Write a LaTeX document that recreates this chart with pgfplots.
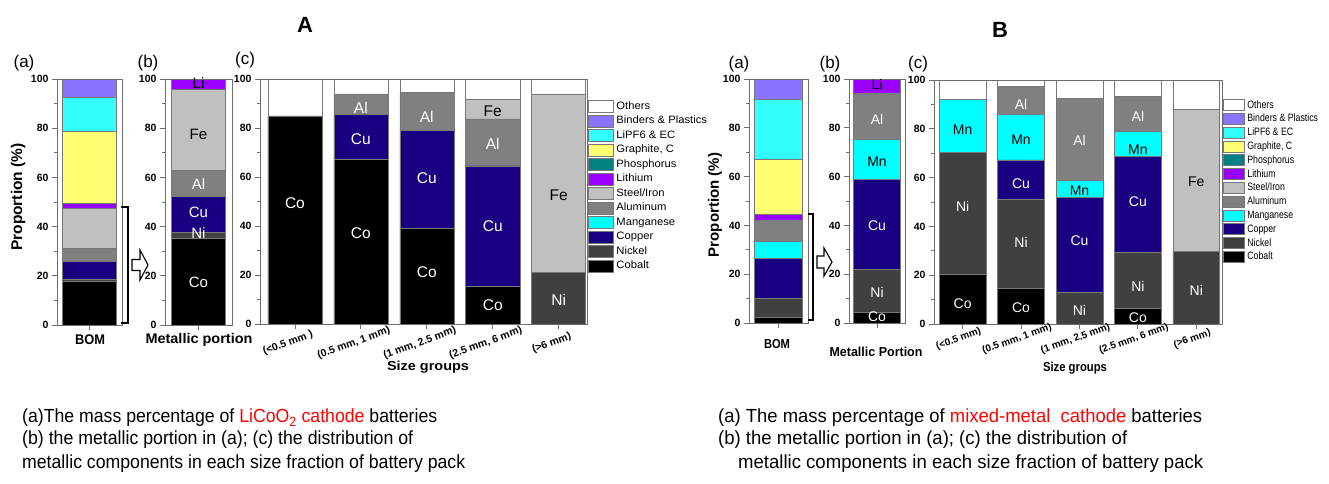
\documentclass[border=0pt]{standalone}
\usepackage{pgfplots}
\pgfplotsset{compat=1.18}
\usepackage{fontspec}
\setmainfont{Liberation Sans}
\usepackage{graphicx}
\definecolor{cOth}{RGB}{255,255,255}
\definecolor{cBind}{RGB}{140,115,255}
\definecolor{cLiPF}{RGB}{51,255,255}
\definecolor{cGr}{RGB}{255,255,115}
\definecolor{cPh}{RGB}{0,128,128}
\definecolor{cLi}{RGB}{153,0,255}
\definecolor{cFe}{RGB}{192,192,192}
\definecolor{cAl}{RGB}{128,128,128}
\definecolor{cMn}{RGB}{0,255,255}
\definecolor{cCu}{RGB}{26,0,128}
\definecolor{cNi}{RGB}{64,64,64}
\definecolor{cCo}{RGB}{0,0,0}
\definecolor{axc}{RGB}{110,110,110}
\definecolor{barc}{RGB}{120,120,120}
\newcommand\fitw[2]{\resizebox{#1}{\height}{#2}}
\newcommand\fs[1]{\fontsize{#1}{#1}\selectfont}
\newcommand\LA[1]{\scalebox{1.05}[1]{#1}}
\newcommand\LB[1]{\scalebox{0.82}[1]{#1}}
\pgfplotsset{
 base/.style={
   scale only axis, ymin=0, ymax=100, anchor=north west,
   axis on top,
   ytick={0,20,40,60,80,100}, minor ytick={10,30,50,70,90},
   tick align=outside, xtick pos=left, ytick pos=left,
   major tick length=5pt, minor tick length=3pt,
   axis line style={draw=axc, line width=0.8pt},
   every tick/.append style={draw=axc, line width=0.8pt},
   yticklabel style={font=\fs{10.5}\bfseries},
   /pgf/number format/assume math mode=true,
   ybar stacked,
   every axis plot/.append style={draw=barc, line width=0.5pt},
   clip=false,
 },
 single/.style={xmin=-0.5, xmax=0.5, xtick={0}, xticklabels={}},
}
\tikzset{labA/.style={font=\fs{15.5}, inner sep=0pt, text=white},
         labB/.style={font=\fs{14}, inner sep=0pt, text=white}}
\begin{document}
\begin{tikzpicture}
\path[use as bounding box] (0pt,0pt) rectangle (1329pt,483pt);
% ================= A =================
\node[font=\fs{22}\bfseries] at (305pt,458pt) {A};
\node[font=\fs{17}] at (24pt,420pt) {(a)};
\node[font=\fs{17}] at (148pt,420pt) {(b)};
\node[font=\fs{17}] at (245pt,423pt) {(c)};
\node[font=\fs{15.5}\bfseries, rotate=90] at (18pt,286pt) {Proportion (\%)};
% A (a)
\begin{axis}[base, single, at={(57pt,404pt)}, width=65pt, height=246pt, bar width=0.83]
\addplot[fill=cCo] coordinates {(0,17.6)};
\addplot[fill=cNi] coordinates {(0,1.0)};
\addplot[fill=cCu] coordinates {(0,7.4)};
\addplot[fill=cAl] coordinates {(0,5.2)};
\addplot[fill=cFe] coordinates {(0,16.3)};
\addplot[fill=cLi] coordinates {(0,2.0)};
\addplot[fill=cGr] coordinates {(0,29.2)};
\addplot[fill=cLiPF] coordinates {(0,14.0)};
\addplot[fill=cBind] coordinates {(0,7.3)};
\end{axis}
% A (b)
\begin{axis}[base, single, at={(165pt,404pt)}, width=67pt, height=246pt, bar width=0.8,
 after end axis/.code={
  \node[labA,font=\fs{15},text=black] at (axis cs:0,98.2) {Li};
  \node[labA,font=\fs{15},text=black] at (axis cs:0,77.6) {Fe};
  \node[labA,font=\fs{15}] at (axis cs:0,57.3) {Al};
  \node[labA,font=\fs{15}] at (axis cs:0,46) {Cu};
  \node[labA,font=\fs{15}] at (axis cs:0,37.5) {Ni};
  \node[labA,font=\fs{15}] at (axis cs:0,17.5) {Co};
 }]
\addplot[fill=cCo] coordinates {(0,35.3)};
\addplot[fill=cNi] coordinates {(0,2.3)};
\addplot[fill=cCu] coordinates {(0,14.6)};
\addplot[fill=cAl] coordinates {(0,10.6)};
\addplot[fill=cFe] coordinates {(0,33.1)};
\addplot[fill=cLi] coordinates {(0,4.1)};
\end{axis}
% A (c)
\begin{axis}[base, at={(260pt,404pt)}, width=327pt, height=245pt,
  xmin=-0.53, xmax=4.43, bar width=0.82, xtick={0,1,2,3,4},
  xticklabels={{(<0.5 mm )},{(0.5 mm, 1 mm)},{(1 mm, 2.5 mm)},{(2.5 mm, 6 mm)},{(>6 mm)}},
  xticklabel style={font=\fs{10.5}\bfseries, anchor=center, xshift=-7pt, yshift=-14pt, rotate=20},
  legend image code/.code={\draw[#1] (0pt,-6pt) rectangle (25pt,6pt);},
  reverse legend, legend cell align=left,
  legend style={draw=none, fill=none, at={(1.003,0.918)}, anchor=north west,
    inner sep=0pt, outer sep=0pt, row sep=0pt, column sep=3pt, font=\fs{10.7},
    nodes={inner sep=0pt, minimum height=14.5pt}},
  after end axis/.code={
   \node[labA] at (axis cs:0,49.5) {Co};
   \node[labA] at (axis cs:1,88.1) {Al};
   \node[labA] at (axis cs:1,75.4) {Cu};
   \node[labA] at (axis cs:1,37.2) {Co};
   \node[labA] at (axis cs:2,84.4) {Al};
   \node[labA] at (axis cs:2,59.4) {Cu};
   \node[labA] at (axis cs:2,21.2) {Co};
   \node[labA,text=black] at (axis cs:3,86.7) {Fe};
   \node[labA] at (axis cs:3,73.4) {Al};
   \node[labA] at (axis cs:3,40) {Cu};
   \node[labA] at (axis cs:3,7.8) {Co};
   \node[labA,text=black] at (axis cs:4,52.6) {Fe};
   \node[labA] at (axis cs:4,9.8) {Ni};
  },
]
\addplot[fill=cCo] coordinates {(0,85) (1,67.3) (2,38.9) (3,15.4) (4,0)};
\addplot[fill=cNi] coordinates {(0,0) (1,0) (2,0) (3,0) (4,21.0)};
\addplot[fill=cCu] coordinates {(0,0) (1,18.4) (2,40.1) (3,49.1) (4,0)};
\addplot[fill=cMn] coordinates {(0,0) (1,0) (2,0) (3,0) (4,0)};
\addplot[fill=cAl] coordinates {(0,0) (1,8.2) (2,15.5) (3,19.2) (4,0)};
\addplot[fill=cFe] coordinates {(0,0) (1,0) (2,0) (3,8.2) (4,72.9)};
\addplot[fill=cLi] coordinates {(0,0) (1,0) (2,0) (3,0) (4,0)};
\addplot[fill=cPh] coordinates {(0,0) (1,0) (2,0) (3,0) (4,0)};
\addplot[fill=cGr] coordinates {(0,0) (1,0) (2,0) (3,0) (4,0)};
\addplot[fill=cLiPF] coordinates {(0,0) (1,0) (2,0) (3,0) (4,0)};
\addplot[fill=cBind] coordinates {(0,0) (1,0) (2,0) (3,0) (4,0)};
\addplot[fill=cOth] coordinates {(0,15) (1,6.1) (2,5.5) (3,8.1) (4,6.1)};
\legend{\LA{Cobalt},\LA{Nickel},\LA{Copper},\LA{Manganese},\LA{Aluminum},\LA{Steel/Iron},\LA{Lithium},\LA{Phosphorus},\LA{Graphite, C},\LA{LiPF6 \& EC},\LA{Binders \& Plastics},\LA{Others}}
\end{axis}
\node[font=\fs{14}\bfseries] at (90pt,143pt) {\fitw{30pt}{BOM}};
\node[font=\fs{14}\bfseries] at (199pt,143pt) {\fitw{107pt}{Metallic portion}};
\node[font=\fs{13}\bfseries] at (428pt,116pt) {\fitw{82pt}{Size groups}};
% bracket + arrow A
\draw[line width=1.3pt] (121pt,276pt) -- (128pt,276pt) -- (128pt,160pt) -- (121pt,160pt);
\draw[line width=1.1pt, fill=white] (132pt,212.5pt) -- (140pt,212.5pt) -- (140pt,203pt) -- (148pt,218pt) -- (140pt,233pt) -- (140pt,223.5pt) -- (132pt,223.5pt) -- cycle;
% captions A
\node[anchor=west, inner sep=0pt, font=\fs{19}] at (22pt,65pt) {\fitw{415pt}{(a)The mass percentage of \textcolor{red}{LiCoO\textsubscript{2} cathode} batteries}};
\node[anchor=west, inner sep=0pt, font=\fs{19}] at (22pt,43pt) {\fitw{391pt}{(b) the metallic portion in (a); (c) the distribution of}};
\node[anchor=west, inner sep=0pt, font=\fs{19}] at (22pt,19pt) {\fitw{443pt}{metallic components in each size fraction of battery pack}};
% ================= B =================
\node[font=\fs{22}\bfseries] at (1000pt,453pt) {B};
\node[font=\fs{17}] at (739pt,419pt) {(a)};
\node[font=\fs{17}] at (830pt,419pt) {(b)};
\node[font=\fs{17}] at (918pt,419pt) {(c)};
\node[font=\fs{15}\bfseries, rotate=90] at (715pt,278pt) {Proportion (\%)};
% B (a)
\begin{axis}[base, single, at={(749pt,404pt)}, width=59pt, height=244pt, bar width=0.81]
\addplot[fill=cCo] coordinates {(0,2.5)};
\addplot[fill=cNi] coordinates {(0,7.7)};
\addplot[fill=cCu] coordinates {(0,16.2)};
\addplot[fill=cMn] coordinates {(0,7.2)};
\addplot[fill=cAl] coordinates {(0,8.5)};
\addplot[fill=cLi] coordinates {(0,2.3)};
\addplot[fill=cGr] coordinates {(0,22.8)};
\addplot[fill=cLiPF] coordinates {(0,24.6)};
\addplot[fill=cBind] coordinates {(0,8.2)};
\end{axis}
% B (b)
\begin{axis}[base, single, at={(849pt,404pt)}, width=56pt, height=244pt, bar width=0.84,
 after end axis/.code={
  \node[labB,text=black] at (axis cs:0,97.7) {Li};
  \node[labB] at (axis cs:0,83.6) {Al};
  \node[labB,text=black] at (axis cs:0,66.3) {Mn};
  \node[labB] at (axis cs:0,39.9) {Cu};
  \node[labB] at (axis cs:0,12.6) {Ni};
  \node[labB] at (axis cs:0,2.5) {Co};
 }]
\addplot[fill=cCo] coordinates {(0,4.4)};
\addplot[fill=cNi] coordinates {(0,17.7)};
\addplot[fill=cCu] coordinates {(0,36.9)};
\addplot[fill=cMn] coordinates {(0,16.4)};
\addplot[fill=cAl] coordinates {(0,18.9)};
\addplot[fill=cLi] coordinates {(0,5.7)};
\end{axis}
% B (c)
\begin{axis}[base, at={(934pt,403pt)}, width=288pt, height=244pt,
  xmin=-0.49, xmax=4.44, bar width=0.8, xtick={0,1,2,3,4},
  xticklabels={{(<0.5 mm)},{(0.5 mm, 1 mm)},{(1 mm, 2.5 mm)},{(2.5 mm, 6 mm)},{(>6 mm)}},
  xticklabel style={font=\fs{10}\bfseries, anchor=center, xshift=-4pt, yshift=-10pt, rotate=20},
  legend image code/.code={\draw[#1] (0pt,-5.5pt) rectangle (21pt,5.5pt);},
  reverse legend, legend cell align=left,
  legend style={draw=none, fill=none, at={(1.003,0.926)}, anchor=north west,
    inner sep=0pt, outer sep=0pt, row sep=0pt, column sep=3pt, font=\fs{10.7},
    nodes={inner sep=0pt, minimum height=13.8pt}},
  after end axis/.code={
   \node[labB,text=black] at (axis cs:0,79.8) {Mn};
   \node[labB] at (axis cs:0,48.2) {Ni};
   \node[labB] at (axis cs:0,8.3) {Co};
   \node[labB] at (axis cs:1,89.8) {Al};
   \node[labB,text=black] at (axis cs:1,75.7) {Mn};
   \node[labB] at (axis cs:1,57.7) {Cu};
   \node[labB] at (axis cs:1,33.4) {Ni};
   \node[labB] at (axis cs:1,6.5) {Co};
   \node[labB] at (axis cs:2,75.4) {Al};
   \node[labB,text=black] at (axis cs:2,54.6) {Mn};
   \node[labB] at (axis cs:2,34.1) {Cu};
   \node[labB] at (axis cs:2,5.6) {Ni};
   \node[labB] at (axis cs:3,85) {Al};
   \node[labB,text=black] at (axis cs:3,71.6) {Mn};
   \node[labB] at (axis cs:3,50.2) {Cu};
   \node[labB] at (axis cs:3,15.4) {Ni};
   \node[labB] at (axis cs:3,2.5) {Co};
   \node[labB,text=black] at (axis cs:4,58.4) {Fe};
   \node[labB] at (axis cs:4,13.8) {Ni};
  },
]
\addplot[fill=cCo] coordinates {(0,20.2) (1,14.7) (2,0) (3,6.5) (4,0)};
\addplot[fill=cNi] coordinates {(0,50.1) (1,36.5) (2,13.1) (3,22.8) (4,29.9)};
\addplot[fill=cCu] coordinates {(0,0) (1,16.1) (2,38.7) (3,39.3) (4,0)};
\addplot[fill=cMn] coordinates {(0,21.9) (1,18.7) (2,7.0) (3,10.3) (4,0)};
\addplot[fill=cAl] coordinates {(0,0) (1,11.3) (2,33.7) (3,14.3) (4,0)};
\addplot[fill=cFe] coordinates {(0,0) (1,0) (2,0) (3,0) (4,58.2)};
\addplot[fill=cLi] coordinates {(0,0) (1,0) (2,0) (3,0) (4,0)};
\addplot[fill=cPh] coordinates {(0,0) (1,0) (2,0) (3,0) (4,0)};
\addplot[fill=cGr] coordinates {(0,0) (1,0) (2,0) (3,0) (4,0)};
\addplot[fill=cLiPF] coordinates {(0,0) (1,0) (2,0) (3,0) (4,0)};
\addplot[fill=cBind] coordinates {(0,0) (1,0) (2,0) (3,0) (4,0)};
\addplot[fill=cOth] coordinates {(0,7.8) (1,2.7) (2,7.5) (3,6.8) (4,11.9)};
\legend{\LB{Cobalt},\LB{Nickel},\LB{Copper},\LB{Manganese},\LB{Aluminum},\LB{Steel/Iron},\LB{Lithium},\LB{Phosphorus},\LB{Graphite, C},\LB{LiPF6 \& EC},\LB{Binders \& Plastics},\LB{Others}}
\end{axis}
\node[font=\fs{13}\bfseries] at (777pt,139pt) {\fitw{26pt}{BOM}};
\node[font=\fs{13}\bfseries] at (876pt,131pt) {\fitw{93pt}{Metallic Portion}};
\node[font=\fs{13}\bfseries] at (1075pt,115pt) {\fitw{64pt}{Size groups}};
% bracket + arrow B
\draw[line width=1.3pt] (808pt,269pt) -- (813pt,269pt) -- (813pt,163pt) -- (808pt,163pt);
\draw[line width=1.1pt, fill=white] (817pt,215pt) -- (824pt,215pt) -- (824pt,207pt) -- (832pt,221pt) -- (824pt,235pt) -- (824pt,227pt) -- (817pt,227pt) -- cycle;
% captions B
\node[anchor=west, inner sep=0pt, font=\fs{19}] at (718pt,65pt) {\fitw{484pt}{(a) The mass percentage of \textcolor{red}{mixed-metal\ \ cathode} batteries}};
\node[anchor=west, inner sep=0pt, font=\fs{19}] at (718pt,43pt) {\fitw{409pt}{(b) the metallic portion in (a); (c) the distribution of}};
\node[anchor=west, inner sep=0pt, font=\fs{19}] at (738pt,19pt) {\fitw{465pt}{metallic components in each size fraction of battery pack}};
\end{tikzpicture}
\end{document}
